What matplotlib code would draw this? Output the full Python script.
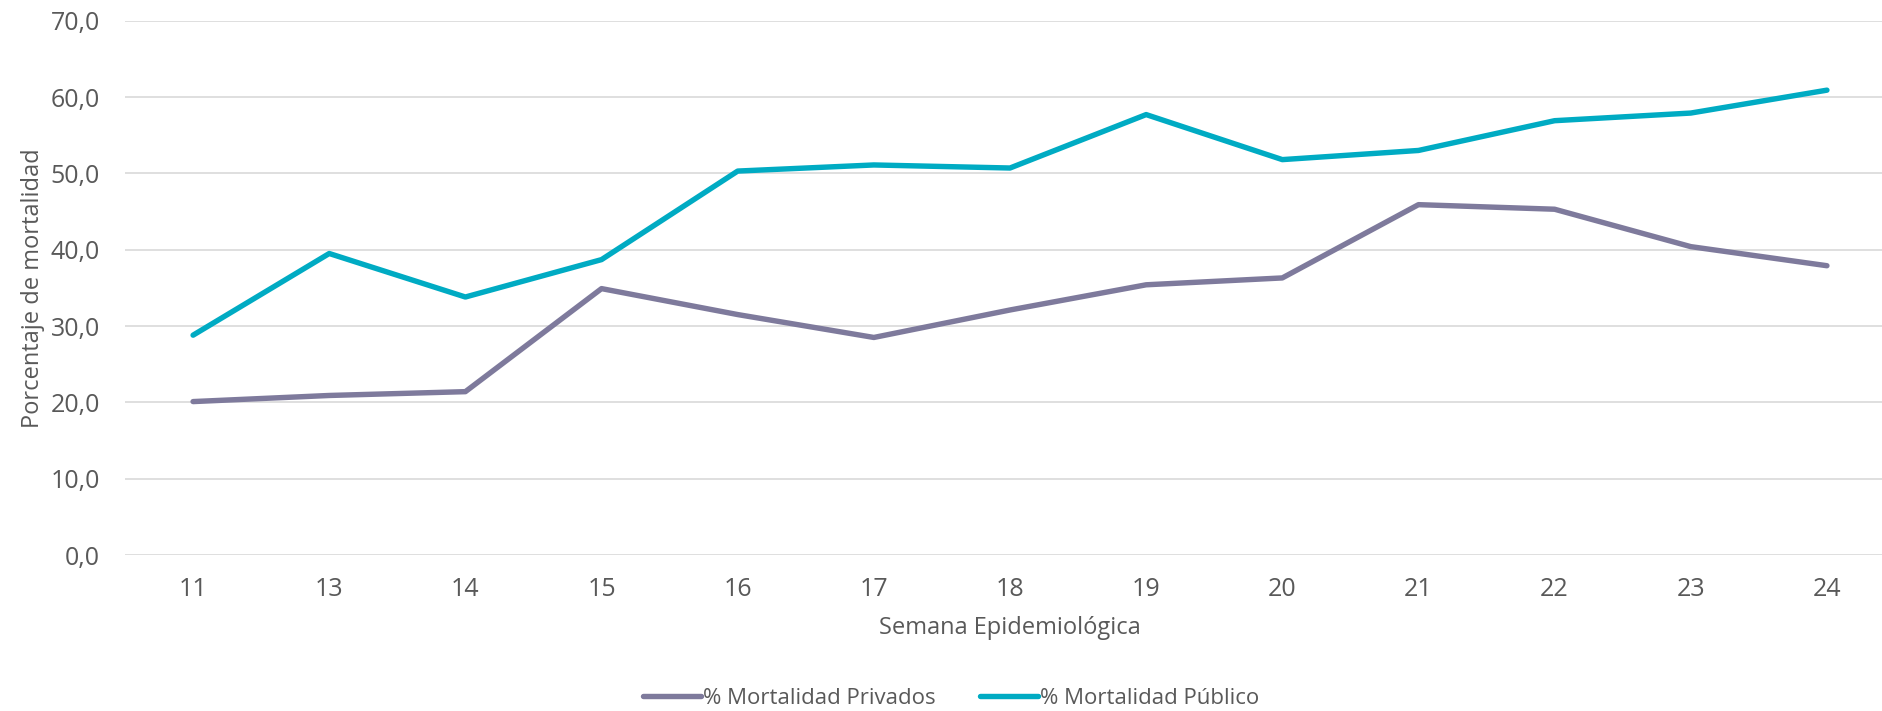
import matplotlib.pyplot as plt
from matplotlib.ticker import FuncFormatter

semanas = ['11', '13', '14', '15', '16', '17', '18', '19', '20', '21', '22', '23', '24']
mort_privados = [20.1, 20.9, 21.4, 34.9, 31.5, 28.5, 32.1, 35.4, 36.3, 45.9, 45.3, 40.4, 37.9]
mort_publico = [28.8, 39.5, 33.8, 38.7, 50.3, 51.1, 50.7, 57.7, 51.8, 53.0, 56.9, 57.9, 60.9]

color_privados = '#7e7a9c'
color_publico = '#00abc3'
text_color = '#595959'

plt.rcParams['font.family'] = ['Open Sans', 'DejaVu Sans']

def plotMortalidad():
    fig = plt.figure(figsize=(18.83, 7.11), dpi=100)
    ax = fig.add_axes([125 / 1883, 1 - 555 / 711, 1770 / 1883, (555 - 20.7) / 711])

    x = list(range(len(semanas)))
    ax.plot(x, mort_privados, color=color_privados, linewidth=3.9,
            solid_capstyle='round', label='% Mortalidad Privados')
    ax.plot(x, mort_publico, color=color_publico, linewidth=3.9,
            solid_capstyle='round', label='% Mortalidad Público')

    ax.set_xlim(-0.5, len(semanas) - 0.5)
    ax.set_ylim(0, 70)
    ax.set_yticks(range(0, 71, 10))
    ax.yaxis.set_major_formatter(FuncFormatter(lambda v, p: f'{v:.1f}'.replace('.', ',')))
    ax.set_xticks(x)
    ax.set_xticklabels(semanas)

    ax.grid(axis='y', color='#dcdcdc', linewidth=1.3)
    ax.set_axisbelow(True)
    for s in ax.spines.values():
        s.set_visible(False)
    ax.tick_params(length=0, labelsize=18, colors=text_color, pad=16)
    ax.tick_params(axis='y', pad=18)

    ax.set_xlabel('Semana Epidemiológica', fontsize=17, color=text_color, labelpad=10)
    ax.set_ylabel('Porcentaje de mortalidad', fontsize=17, color=text_color, labelpad=4)

    fig.legend(loc='lower center', bbox_to_anchor=(0.505, -0.025), ncol=2, frameon=False,
               fontsize=16, labelcolor=text_color, handlelength=2.6,
               handletextpad=0.1, columnspacing=2.0)

    fig.savefig('out.png', dpi=100)

if __name__ == "__main__":
    plotMortalidad()
